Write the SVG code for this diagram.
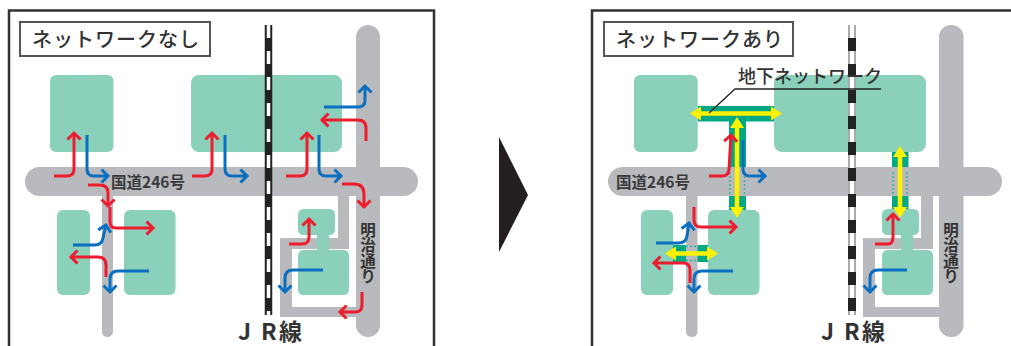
<svg xmlns="http://www.w3.org/2000/svg" width="1011" height="346" viewBox="0 0 1011 346">
<style>
.frame{fill:#fff;stroke:#333;stroke-width:2.5}
.title{fill:#fff;stroke:#555;stroke-width:2}
.bld{fill:#8ad0bb}
.road{fill:#b9babd}
.tun{fill:#00a884}
.ttxt{font-family:"Noto Sans CJK JP","Noto Sans",sans-serif;font-size:20px;fill:#333;letter-spacing:1px;font-weight:500}
.rtxt{font-family:"Noto Sans CJK JP",sans-serif;font-size:15.500px;font-weight:700;fill:#3a3a3c}
.vtxt{font-family:"Noto Sans CJK JP",sans-serif;font-size:15.500px;font-weight:700;fill:#333;writing-mode:vertical-rl}
.jr{font-family:"Noto Sans CJK JP",sans-serif;font-size:23px;font-weight:700;fill:#333}
.net{font-family:"Noto Sans CJK JP",sans-serif;font-size:18px;font-weight:500;fill:#333}
.r{fill:none;stroke:#ed1c2e;stroke-width:3;marker-end:url(#hr)}
.b{fill:none;stroke:#0a6fc0;stroke-width:3;marker-end:url(#hb)}
.y{fill:none;stroke:#fff200;stroke-width:4.500;marker-start:url(#hy);marker-end:url(#hy)}
.dot{fill:none;stroke:#2bb598;stroke-width:1.500;stroke-dasharray:2 2}
</style>
<defs>
<marker id="hr" markerUnits="userSpaceOnUse" markerWidth="18" markerHeight="18" refX="13" refY="9" orient="auto"><path d="M6.500 2.500L13 9L6.500 15.500" fill="none" stroke="#ed1c2e" stroke-width="3"/></marker>
<marker id="hb" markerUnits="userSpaceOnUse" markerWidth="18" markerHeight="18" refX="13" refY="9" orient="auto"><path d="M6.500 2.500L13 9L6.500 15.500" fill="none" stroke="#0a6fc0" stroke-width="3"/></marker>
<marker id="hy" markerUnits="userSpaceOnUse" markerWidth="18" markerHeight="18" refX="2" refY="9" orient="auto-start-reverse"><path d="M0 2L11 9L0 16Z" fill="#fff200"/></marker>
</defs>

<g id="panel-left">
<path class="frame" d="M9 347V10.5H434V347"/>
<g id="left-title"><rect class="title" x="20" y="22" width="190" height="34"/><text class="ttxt" x="32" y="47">ネットワークなし</text></g>
<g id="left-roads">
<rect class="road" x="102" y="190" width="11" height="147" rx="5.500"/>
<path class="road" d="M338 190H349V238H338ZM280 238H349V249H292V307H360V317H280Z"/>
<rect class="road" x="356" y="25" width="24" height="312" rx="12"/>
<rect class="road" x="25" y="167" width="393" height="29" rx="14.500"/>
</g>
<g id="left-buildings">
<rect class="bld" x="50" y="75" width="63.500" height="77" rx="6"/>
<rect class="bld" x="191" y="75" width="151" height="77" rx="8"/>
<rect class="bld" x="57" y="210" width="33" height="85" rx="6"/>
<rect class="bld" x="124" y="210" width="51.500" height="85" rx="6"/>
<path class="bld" d="M304 209H329Q335 209 335 215V229Q335 235 329 235V250H343Q349 250 349 256V289Q349 295 343 295H304Q298 295 298 289V256Q298 250 304 250H317V235H304Q298 235 298 229V215Q298 209 304 209Z"/>
</g>
<g id="left-rail"><path d="M268.500 25V315" stroke="#222" stroke-width="7.500"/><path d="M268.500 25V315" stroke="#fff" stroke-width="3.500" stroke-dasharray="13 13"/></g>
<g id="left-labels">
<text class="rtxt" x="111" y="187.500">国道246号</text>
<text class="vtxt" x="368" y="222">明治通り</text>
<text class="jr" x="238" y="340">J</text><text class="jr" x="261" y="340">R</text><text class="jr" x="279" y="340">線</text>
</g>
</g>

<g id="left-connectors">
<path class="r" d="M54 176H67Q74 176 74 169V133"/>
<path class="b" d="M87 135V169Q87 176 94 176H108"/>
<path class="r" d="M88 185H100Q108 185 108 193V206"/>
<path class="r" d="M110 207V222Q110 228 116 228H153"/>
<path class="b" d="M73 245H95Q102 245 103 238L106 225"/>
<path class="r" d="M106 277V265Q106 257 98 257H71"/>
<path class="b" d="M149 271H118Q110 271 110 279V292"/>
<path class="r" d="M192 176H205Q212 176 212 169V133"/>
<path class="b" d="M225 135V169Q225 176 232 176H247"/>
<path class="r" d="M286 176H300Q307 176 307 169V133"/>
<path class="b" d="M319 135V169Q319 176 326 176H341"/>
<path class="r" d="M342 184H354Q364 184 364 194V207"/>
<path class="b" d="M324 107H358Q365 107 365 100V86"/>
<path class="r" d="M366 141V128Q366 120 358 120H322"/>
<path class="r" d="M289 244H302Q309 244 309 237V219"/>
<path class="b" d="M323 270H293Q285 270 285 278V292"/>
<path class="r" d="M362 292V305Q362 312 355 312H340"/>
</g>

<polygon id="transition-arrow" points="499,137 528,195 499,252" fill="#231f20"/>

<g id="panel-right">
<path class="frame" d="M592 347V10.5H1012"/>
<g id="right-title"><rect class="title" x="604" y="22" width="189" height="34"/><text class="ttxt" x="616" y="47">ネットワークあり</text></g>
<g id="right-buildings">
<rect class="bld" x="634" y="75" width="63.700" height="77" rx="6"/>
<rect class="bld" x="774" y="75" width="152" height="77" rx="8"/>
<rect class="bld" x="641" y="210" width="32" height="85" rx="6"/>
<rect class="bld" x="708" y="210" width="51.500" height="85" rx="6"/>
</g>
<g id="right-tunnels-under">
<rect class="tun" x="698" y="106" width="76" height="15.500"/>
<rect class="tun" x="729" y="121" width="17" height="89"/>
<rect class="tun" x="892" y="152" width="16.500" height="58"/>
<rect class="tun" x="673" y="245" width="35" height="17"/>
</g>
<g id="right-roads">
<rect class="road" x="686" y="190" width="11.500" height="147" rx="5.500"/>
<path class="road" d="M921 190H933V249H875V307H945V317H863V238H921Z"/>
<rect class="road" x="939" y="25" width="24.500" height="312" rx="12"/>
<rect class="road" x="608" y="167" width="394" height="29" rx="14.500"/>
</g>
<g id="right-buildings-small">
<path class="bld" d="M888 209H913Q919 209 919 215V229Q919 235 913 235V250H927Q933 250 933 256V289Q933 295 927 295H888Q882 295 882 289V256Q882 250 888 250H901V235H888Q882 235 882 229V215Q882 209 888 209Z"/>
</g>
<g id="right-tunnel-dots">
<path class="dot" d="M730 172V196M744.500 172V196M893 172V196M907 172V196M686 246.500H698M686 260.500H698"/>
</g>
<g id="right-rail"><path d="M852 25V315" stroke="#a9aaad" stroke-width="8"/><path d="M852 25V315" stroke="#fff" stroke-width="4"/><path d="M852 38V315" stroke="#222" stroke-width="8" stroke-dasharray="13 13"/></g>
<g id="right-network">
<path class="y" d="M699 113.500H773"/>
<path class="y" d="M737 126V209"/>
<path class="y" d="M900 155V209"/>
<path class="y" d="M674 253.500H709"/>
<path d="M709 113L735 89H881" fill="none" stroke="#222" stroke-width="1.300"/>
<text class="net" x="738" y="83">地下ネットワーク</text>
</g>
<g id="right-labels">
<text class="rtxt" x="616" y="187.500">国道246号</text>
<text class="vtxt" x="951" y="222">明治通り</text>
<text class="jr" x="821" y="340">J</text><text class="jr" x="844" y="340">R</text><text class="jr" x="862" y="340">線</text>
</g>
</g>

<g id="right-connectors">
<path class="r" d="M709 176H722Q729 176 729 169L731 135"/>
<path class="b" d="M743 140V169Q743 176 750 176H765"/>
<path class="r" d="M694 207V220Q694 227 701 227H736"/>
<path class="b" d="M656 243H679Q686 243 687 236L689 223"/>
<path class="r" d="M690 283V270Q690 263 683 263H654"/>
<path class="b" d="M733 271H702Q694 271 694 279V292"/>
<path class="r" d="M875 244H888Q893 244 893 237V214"/>
<path class="b" d="M907 270H878Q870 270 870 278V292"/>
</g>
</svg>
